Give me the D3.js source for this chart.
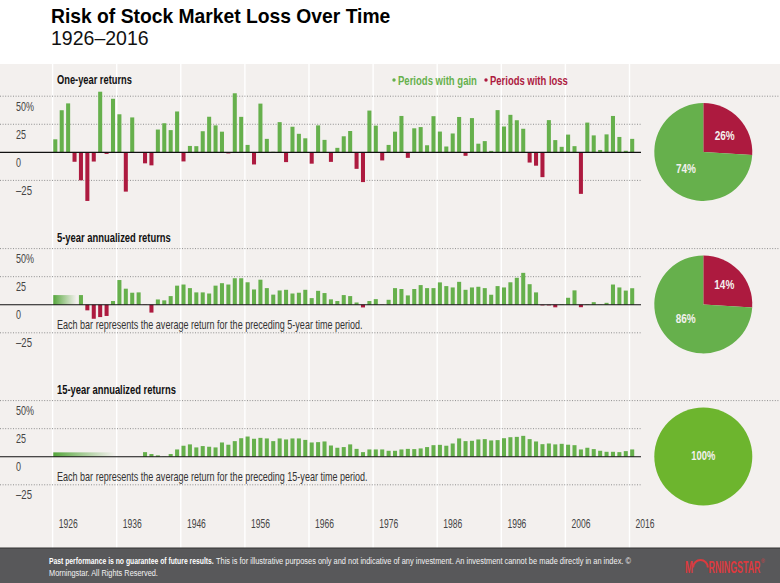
<!DOCTYPE html>
<html>
<head>
<meta charset="utf-8">
<script src="https://cdnjs.cloudflare.com/ajax/libs/d3/7.8.5/d3.min.js"></script>
<style>
html,body{margin:0;padding:0;background:#fff;}
svg{display:block;}
text{font-family:"Liberation Sans",sans-serif;}
</style>
</head>
<body>
<script>
// DATA
var tickYears=[1926,1936,1946,1956,1966,1976,1986,1996,2006,2016];
var tickPercents=[50,25,0,-25];

// 1926-2016
var oneYearReturns=[11.6,37.5,43.6,-8.4,-24.9,-43.3,-8.2,54,-1.4,47.7,33.9,-35,31.1,-0.4,-9.8,-11.6,20.3,25.9,19.8,36.4,
-8.1,5.7,5.5,18.8,31.7,24,18.4,-1,52.6,31.6,6.6,-10.8,43.4,12,0.5,26.9,-8.7,22.8,16.5,12.5,-10.1,24,11.1,-8.5,4,14.3,19,
-14.7,-26.5,37.2,23.8,-7.2,6.6,18.4,32.4,-4.9,21.4,22.5,6.3,32.2,18.5,5.2,16.8,31.5,-3.1,30.5,7.7,10,1.3,37.6,23,33.4,
28.6,21,-9.1,-11.9,-22.1,28.7,10.9,4.9,15.8,5.5,-37,26.5,15.1,2.1,16,32.4,13.7,1.4,12];
// 1930-2016
var fiveYearReturns=[8.6,-5,-12.5,-11,-10,3.3,22,14.3,10.7,11,-0.2,-7,4.7,3.9,7.7,17,18,14.8,11,11,10,17,19.2,18,23.6,23.6,
20,13.6,22.3,14.8,9,12.7,13.3,10,10.7,13.3,5.9,12.4,10.4,4.8,3.3,8.6,7.7,2,-2.4,3.3,5,-0.2,4.4,14.8,14,8.3,14,17.5,14.8,
14.8,19.9,16.6,15.4,20.4,13.3,15.4,16,14.8,8.9,16.6,15.4,20,24,28.4,18.3,11,-0.6,-0.6,-2.3,0.5,6.2,12.8,-2.2,0.4,2.3,0.2,
1.7,18,15.4,12.6,14.7];
// 1940-2016
var fifteenYearReturns=[4.1,2.4,1.2,0.2,2.4,6.5,9.8,11,8.3,9.5,8.9,8.3,12.7,10.7,13.9,16.5,18,16,16.8,16.3,13.9,16.3,15.4,
16.3,16.3,15,12.7,13,13.6,10,8,8.6,11,7,4.1,6.5,6.5,6.5,5.3,5.3,6.5,7,6.8,7.4,8.6,10.3,10.6,9.8,11.8,16.3,13.9,14.2,15.4,
15.7,14.5,14.8,16.5,17.4,17.7,18.6,15.7,13.6,11.2,11.8,11,11.5,10.7,10.3,6.5,8,6.8,5.3,4.4,4.4,4.1,5,6.5];

// pie labels, loss first (clockwise from the top)
var oneYearLabels=[26,74];
var fiveYearLabels=[14,86];
var fifteenYearLabels=[100];
// the 5-year wedge in the picture is drawn the same size as the one-year wedge, not 14%
var oneYearSlices=[26,74];
var fiveYearSlices=[26,74];
var fifteenYearSlices=[100];

//SVG VARIABLES
var width=780;
var height=583;
var green="#66b04c";
var red="#ad1a3f";
var limegreen="#6db52e";
var svg=d3.select("body").append("svg").attr("width",width).attr("height",height);

var x=d3.scaleBand().domain(d3.range(1926,2017)).range([52.1,635.4]).paddingInner(0.37).paddingOuter(0.185);
var step=x.step();

// the reference type is condensed and no condensed face is installed: squeeze to the measured width
function fit(sel,len){
	var s=len/sel.node().getComputedTextLength();
	var tx=+sel.attr("x")||0;
	return sel.attr("transform","translate("+(tx*(1-s))+",0) scale("+s+",1)");
}

//gradients for the periods without a full window
var defs=svg.append("defs");
var grad=defs.append("linearGradient").attr("id","fade");
grad.append("stop").attr("offset","0%").attr("stop-color","#55a63c").attr("stop-opacity",1);
grad.append("stop").attr("offset","100%").attr("stop-color",green).attr("stop-opacity",0);

//background
svg.append("rect").attr("x",0).attr("y",64).attr("width",width).attr("height",484).attr("fill","#f3f0ee");
svg.selectAll(".vline").data(tickYears).enter().append("line")
	.attr("x1",function(d){return x(d)-step*0.185+0.5;})
	.attr("x2",function(d){return x(d)-step*0.185+0.5;})
	.attr("y1",64).attr("y2",548)
	.attr("stroke","#fff").attr("stroke-width",1.4);

//titles
svg.append("text").attr("x",51).attr("y",22.5).attr("font-size",19.3).attr("font-weight","bold").attr("fill","#000")
	.text("Risk of Stock Market Loss Over Time");
svg.append("text").attr("x",51).attr("y",45).attr("font-size",19.5).attr("fill","#111").text("1926–2016");

//legend
var legend=[{t:"Periods with gain",c:green,x:398,len:79},{t:"Periods with loss",c:red,x:490,len:78}];
legend.forEach(function(l){
	svg.append("circle").attr("cx",l.x-4).attr("cy",80).attr("r",1.7).attr("fill",l.c);
	fit(svg.append("text").attr("x",l.x).attr("y",84.7).attr("font-size",12.5).attr("font-weight","bold").attr("fill",l.c).text(l.t),l.len);
});

var panels=[
	{title:"One-year returns",titleLen:75,titleY:84,zero:152.3,values:oneYearReturns,start:1926,
		slices:oneYearSlices,labels:oneYearLabels,labelPos:[[21.4,-12],[-17.3,21]]},
	{title:"5-year annualized returns",titleLen:114,titleY:242.5,zero:304.7,values:fiveYearReturns,start:1930,
		slices:fiveYearSlices,labels:fiveYearLabels,labelPos:[[21,-15],[-17.6,19]],
		note:"Each bar represents the average return for the preceding 5-year time period.",noteLen:306,
		fade:{end:1930,value:8.6}},
	{title:"15-year annualized returns",titleLen:119,titleY:394.5,zero:456.7,values:fifteenYearReturns,start:1940,
		slices:fifteenYearSlices,labels:fifteenYearLabels,labelPos:[[0,4]],
		note:"Each bar represents the average return for the preceding 15-year time period.",noteLen:311,
		fade:{end:1936,value:3.9}}
];

var pieCx=703.3, pieR=49;
var tickLen={"50":18,"25":10,"0":5,"-25":16};

panels.forEach(function(p){
	var g=svg.append("g");
	var y=d3.scaleLinear().domain([-25,50]).range([p.zero+28.1,p.zero-56.1]);

	//grid
	g.selectAll(".grid").data(tickPercents.filter(function(d){return d!==0;})).enter().append("line")
		.attr("x1",0).attr("x2",function(d){return d===50?780:642;})
		.attr("y1",function(d){return y(d);}).attr("y2",function(d){return y(d);})
		.attr("stroke","#8f8f8f").attr("stroke-width",1).attr("stroke-dasharray","1,1.6");

	//y axis labels sit under their gridline
	var axis=d3.axisLeft(y).tickValues(tickPercents).tickSize(0)
		.tickFormat(function(d){return d===50?"50%":(d<0?"–"+(-d):d);});
	var ag=g.append("g").attr("transform","translate(16,0)").call(axis);
	ag.select(".domain").remove();
	ag.selectAll("text").attr("x",0).attr("dy",14).attr("text-anchor","start")
		.attr("font-size",12.5).attr("fill","#444").style("font-family","'Liberation Sans',sans-serif")
		.each(function(d){fit(d3.select(this),tickLen[d]);});

	//title, note
	fit(g.append("text").attr("x",57).attr("y",p.titleY).attr("font-size",12.5).attr("font-weight","bold").attr("fill","#111").text(p.title),p.titleLen);
	if(p.note){
		fit(g.append("text").attr("x",57).attr("y",p.zero+24.5).attr("font-size",12).attr("fill","#333").text(p.note),p.noteLen);
	}

	//faded lead in
	if(p.fade){
		g.append("rect").attr("x",x(1926)).attr("width",x(p.fade.end)-x(1926)-step*0.37)
			.attr("y",y(p.fade.value)).attr("height",y(0)-y(p.fade.value)).attr("fill","url(#fade)");
	}

	//bars
	var data=p.values.map(function(v,i){return {year:p.start+i,value:v};});
	g.selectAll(".bar").data(data).enter().append("rect")
		.attr("x",function(d){return x(d.year);})
		.attr("width",x.bandwidth())
		.attr("y",function(d){return y(Math.max(d.value,0));})
		.attr("height",function(d){return Math.abs(y(d.value)-y(0));})
		.attr("fill",function(d){return d.value<0?red:green;});

	//zero line
	g.append("line").attr("x1",0).attr("x2",641).attr("y1",y(0)).attr("y2",y(0)).attr("stroke","#111").attr("stroke-width",1.1);

	//pie
	var pie=d3.pie().sort(null)(p.slices);
	var arc=d3.arc().innerRadius(0).outerRadius(pieR);
	var pg=g.append("g").attr("transform","translate("+pieCx+","+(p.zero-0.3)+")");
	pg.selectAll("path").data(pie).enter().append("path").attr("d",arc)
		.attr("fill",function(d,i){return p.slices.length===1?limegreen:(i===0?red:green);});
	pg.selectAll("text").data(p.labels).enter().append("text")
		.attr("x",function(d,i){return p.labelPos[i][0]-(d===100?12:10);})
		.attr("y",function(d,i){return p.labelPos[i][1];})
		.attr("font-size",12.5).attr("font-weight","bold").attr("fill","#f3f0ee")
		.text(function(d){return d+"%";})
		.each(function(d){fit(d3.select(this),d===100?24:20);});
});

//year axis
var yearAxis=d3.axisBottom(x).tickValues(tickYears).tickSize(0);
var yg=svg.append("g").attr("transform","translate(0,516.5)").call(yearAxis);
yg.select(".domain").remove();
yg.selectAll("text").attr("text-anchor","start").attr("x",3.4).attr("font-size",12.5).attr("fill","#444")
	.style("font-family","'Liberation Sans',sans-serif")
	.each(function(){fit(d3.select(this),19);});

//footer
svg.append("rect").attr("x",0).attr("y",548).attr("width",width).attr("height",35).attr("fill","#58585a");
svg.append("line").attr("x1",0).attr("x2",width).attr("y1",548).attr("y2",548).attr("stroke","#333");
fit(svg.append("text").attr("x",49).attr("y",564.5).attr("font-size",9.6).attr("font-weight","bold").attr("fill","#fff")
	.text("Past performance is no guarantee of future results."),165);
fit(svg.append("text").attr("x",216).attr("y",564.5).attr("font-size",9.6).attr("fill","#f2f2f2")
	.text("This is for illustrative purposes only and not indicative of any investment. An investment cannot be made directly in an index. ©"),415);
fit(svg.append("text").attr("x",49).attr("y",576.5).attr("font-size",9.6).attr("fill","#f2f2f2").text("Morningstar. All Rights Reserved."),109);

//logo
var logoRed="#dc3a3e";
fit(svg.append("text").attr("x",685).attr("y",573).attr("font-size",17).attr("font-weight","bold").attr("fill",logoRed).text("M"),8);
svg.append("path")
	.attr("d",d3.arc().innerRadius(6.4).outerRadius(8.4).startAngle(-Math.PI/2).endAngle(Math.PI/2)())
	.attr("transform","translate(700.5,567.5)").attr("fill",logoRed);
fit(svg.append("text").attr("x",708.5).attr("y",573).attr("font-size",17).attr("font-weight","bold").attr("fill",logoRed).text("RNINGSTAR"),52);
svg.append("text").attr("x",761).attr("y",563).attr("font-size",5).attr("fill",logoRed).text("®");
</script>
</body>
</html>
